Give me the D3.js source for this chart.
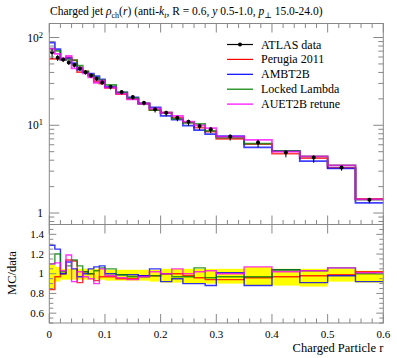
<!DOCTYPE html>
<html><head><meta charset="utf-8">
<script src="https://cdn.jsdelivr.net/npm/d3@7/dist/d3.min.js"></script>
<style>
body{margin:0;background:#fff;}
svg text{font-family:"Liberation Serif","DejaVu Serif",serif;fill:#000;}
</style></head>
<body><svg id="c" width="397" height="358"></svg>
<script>
// ---- data ----
const binEdges = [0,0.01,0.02,0.03,0.04,0.05,0.06,0.07,0.08,0.09,0.1,0.12,0.14,0.16,0.18,0.2,0.22,0.24,0.26,0.28,0.3,0.35,0.4,0.45,0.5,0.55,0.6];
const dataValues = [68,58.8,56,52,48.5,44.4,40.3,37,33.9,30.8,27.5,23.9,21,18.1,15.2,13.9,12.2,11.0,9.8,9.0,7.44,6.36,4.9,4.3,3.3,1.42];
const dataErrUp = [0.09,0.07,0.05,0.05,0.05,0.05,0.05,0.05,0.05,0.05,0.04,0.04,0.04,0.04,0.04,0.05,0.05,0.05,0.05,0.05,0.05,0.07,0.05,0.05,0.05,0.03];
const dataErrDown = [0.16,0.08,0.06,0.06,0.06,0.06,0.06,0.06,0.06,0.06,0.07,0.07,0.07,0.07,0.08,0.09,0.09,0.1,0.1,0.1,0.1,0.12,0.12,0.13,0.08,0.09];
const ratioPerugia = [0.84,0.97,1.0,1.14,1.13,0.91,1.02,1.0,0.93,0.97,0.97,0.95,0.95,0.98,0.98,1.0,1.0,0.98,0.96,0.94,0.94,0.96,0.97,0.98,0.99,1.02];
const ratioAMBT2B = [1.29,1.25,1.0,1.12,1.05,0.97,1.0,1.05,1.07,1.08,1.0,0.99,0.99,0.98,1.05,0.92,0.95,0.9,0.9,0.88,1.01,0.88,1.04,0.91,0.98,0.92];
const ratioLocked = [1.1,1.2,1.02,1.08,1.14,1.08,1.02,1.0,1.03,1.06,1.05,0.99,0.97,0.97,0.98,1.0,0.97,0.97,1.06,0.96,0.97,0.97,1.04,1.03,1.06,1.0];
const ratioAUET2B = [1.1,1.11,1.03,1.19,0.92,1.02,0.97,0.95,0.9,1.05,0.98,0.96,0.94,0.97,1.02,1.0,1.05,1.0,1.02,1.03,1.0,1.07,1.02,1.03,1.06,1.01];
const seriesNames = ["Perugia 2011","AMBT2B","Locked Lambda","AUET2B retune"];
const seriesColors = ["#ff0000","#0000ff","#008000","#ff00ff"];
const seriesRatios = [ratioPerugia,ratioAMBT2B,ratioLocked,ratioAUET2B];
const xTickLabels = ["0","0.1","0.2","0.3","0.4","0.5","0.6"];
const ratioTickLabels = ["0.6","0.8","1","1.2","1.4"];

// ---- layout ----
const L = 49.3, R = 383.3, mainTop = 23.5, mainBot = 224.5, ratTop = 224.5, ratBot = 323;
const svg = d3.select("#c");
const x = d3.scaleLinear().domain([0,0.6]).range([L,R]);
const yM = d3.scaleLog().domain([0.74,144.5]).range([mainBot,mainTop]);
const yR = d3.scaleLinear().domain([0.5,1.5]).range([ratBot,ratTop]);
const axisCol = "#888";

const bins = d3.range(dataValues.length).map(i => ({x0:binEdges[i], x1:binEdges[i+1], i}));
function stepPath(vals, ys){
  let p = "";
  bins.forEach((b,k)=>{
    const yy = ys(vals[k]);
    p += (k===0?"M":"L") + x(b.x0) + "," + yy + "L" + x(b.x1) + "," + yy;
  });
  return p;
}

// ---- ratio band ----
const gR = svg.append("g");
gR.selectAll("rect.band").data(bins).enter().append("rect")
  .attr("x", b=>x(b.x0)).attr("width", b=>x(b.x1)-x(b.x0))
  .attr("y", b=>yR(1+dataErrUp[b.i])).attr("height", b=>yR(1-dataErrDown[b.i])-yR(1+dataErrUp[b.i]))
  .attr("fill","#ffff00");

// ratio lines
seriesRatios.forEach((r,si)=>{
  gR.append("path").attr("d", stepPath(r, yR)).attr("fill","none")
    .attr("stroke", seriesColors[si]).attr("stroke-width",1.4).attr("stroke-opacity",0.8);
});

// ---- main MC lines ----
const gM = svg.append("g");
seriesRatios.forEach((r,si)=>{
  const vals = dataValues.map((v,k)=>v*r[k]);
  gM.append("path").attr("d", stepPath(vals, yM)).attr("fill","none")
    .attr("stroke", seriesColors[si]).attr("stroke-width",1.8).attr("stroke-opacity",0.75);
});
// data points
bins.forEach(b=>{
  const cx = x((b.x0+b.x1)/2), v = dataValues[b.i];
  gM.append("line").attr("x1",cx).attr("x2",cx)
    .attr("y1", yM(v*(1+dataErrUp[b.i]))).attr("y2", yM(v*(1-dataErrDown[b.i])))
    .attr("stroke","#000").attr("stroke-width",1);
  gM.append("circle").attr("cx",cx).attr("cy",yM(v)).attr("r",2).attr("fill","#000");
});

// ---- frames & ticks ----
function frame(t,b){
  svg.append("rect").attr("x",L).attr("y",t).attr("width",R-L).attr("height",b-t)
    .attr("fill","none").attr("stroke",axisCol).attr("stroke-width",1);
}
frame(mainTop,mainBot); frame(ratTop,ratBot);
function tick(x1,y1,x2,y2){ svg.append("line").attr("x1",x1).attr("y1",y1).attr("x2",x2).attr("y2",y2).attr("stroke",axisCol).attr("stroke-width",1); }

// x ticks
const xMinor = d3.range(0,0.6001,0.02);
xMinor.forEach(v=>{
  const major = Math.abs(v*10-Math.round(v*10))<1e-6;
  const len = major?9:4.5;
  const px = x(v);
  tick(px,mainTop,px,mainTop+len);
  tick(px,mainBot,px,mainBot-len);
  if(major) tick(px,ratTop,px,ratTop+len);
  tick(px,ratBot,px,ratBot-len);
});
// main y log ticks
const logTicks = [];
[0.1,1,10,100].forEach(d=>{ for(let m=1;m<10;m++){ const v=d*m; if(v>=0.74&&v<=144.5) logTicks.push({v,major:m===1}); } });
logTicks.forEach(t=>{
  const py = yM(t.v), len = t.major?10:5;
  tick(L,py,L+len,py); tick(R,py,R-len,py);
});
// main y labels
const gl = svg.append("g").attr("font-size",11.5).attr("text-anchor","end");
[[100,"2"],[10,"1"]].forEach(([v,e])=>{
  const t = gl.append("text").attr("x",43).attr("y",yM(v)+4);
  t.append("tspan").text("10");
  t.append("tspan").attr("dy",-4).attr("font-size",8.5).text(e);
});
gl.append("text").attr("x",43).attr("y",yM(1)+4).text("1");

// ratio y ticks
d3.range(0.5,1.5001,0.05).forEach(v=>{
  const major = Math.abs(v*5-Math.round(v*5))<1e-6;
  const len = major?7:4;
  tick(L,yR(v),L+len,yR(v)); tick(R,yR(v),R-len,yR(v));
});
ratioTickLabels.forEach(s=>{
  svg.append("text").attr("x",44).attr("y",yR(+s)+3.5).attr("font-size",11)
    .attr("text-anchor","end").text(s);
});
// x tick labels
xTickLabels.forEach(s=>{
  svg.append("text").attr("x",x(+s)).attr("y",338).attr("font-size",11)
    .attr("text-anchor","middle").text(s);
});
// axis titles
svg.append("text").attr("transform","translate(16,273) rotate(-90)").attr("text-anchor","middle")
  .attr("font-size",12.5).text("MC/data");
svg.append("text").attr("x",R).attr("y",352).attr("text-anchor","end").attr("font-size",12.5).text("Charged Particle r");

// title
const tt = svg.append("text").attr("x",50).attr("y",15).attr("font-size",11.5);
tt.append("tspan").text("Charged jet ");
tt.append("tspan").attr("font-style","italic").text("ρ");
tt.append("tspan").attr("font-size",8).attr("dy",2.5).text("ch");
tt.append("tspan").attr("dy",-2.5).text("(");
tt.append("tspan").attr("font-style","italic").text("r");
tt.append("tspan").text(") (anti-");
tt.append("tspan").attr("font-style","italic").text("k");
tt.append("tspan").attr("font-style","italic").attr("font-size",8).attr("dy",2.5).text("t");
tt.append("tspan").attr("dy",-2.5).text(", R = 0.6, ");
tt.append("tspan").attr("font-style","italic").text("y");
tt.append("tspan").text(" 0.5-1.0, ");
tt.append("tspan").attr("font-style","italic").text("p");
tt.append("tspan").attr("font-size",8).attr("dy",2.5).text("⊥");
tt.append("tspan").attr("dy",-2.5).text(" 15.0-24.0)");

// legend
const legNames = ["ATLAS data"].concat(seriesNames);
const legCols = ["#000"].concat(seriesColors);
legNames.forEach((n,i)=>{
  const yy = 44.5 + i*14.9;
  svg.append("line").attr("x1",227).attr("x2",253).attr("y1",yy).attr("y2",yy)
    .attr("stroke",legCols[i]).attr("stroke-width",1.2);
  if(i===0) svg.append("circle").attr("cx",240).attr("cy",yy).attr("r",2).attr("fill","#000");
  svg.append("text").attr("x",261).attr("y",yy+4).attr("font-size",12).text(n);
});
</script></body></html>
